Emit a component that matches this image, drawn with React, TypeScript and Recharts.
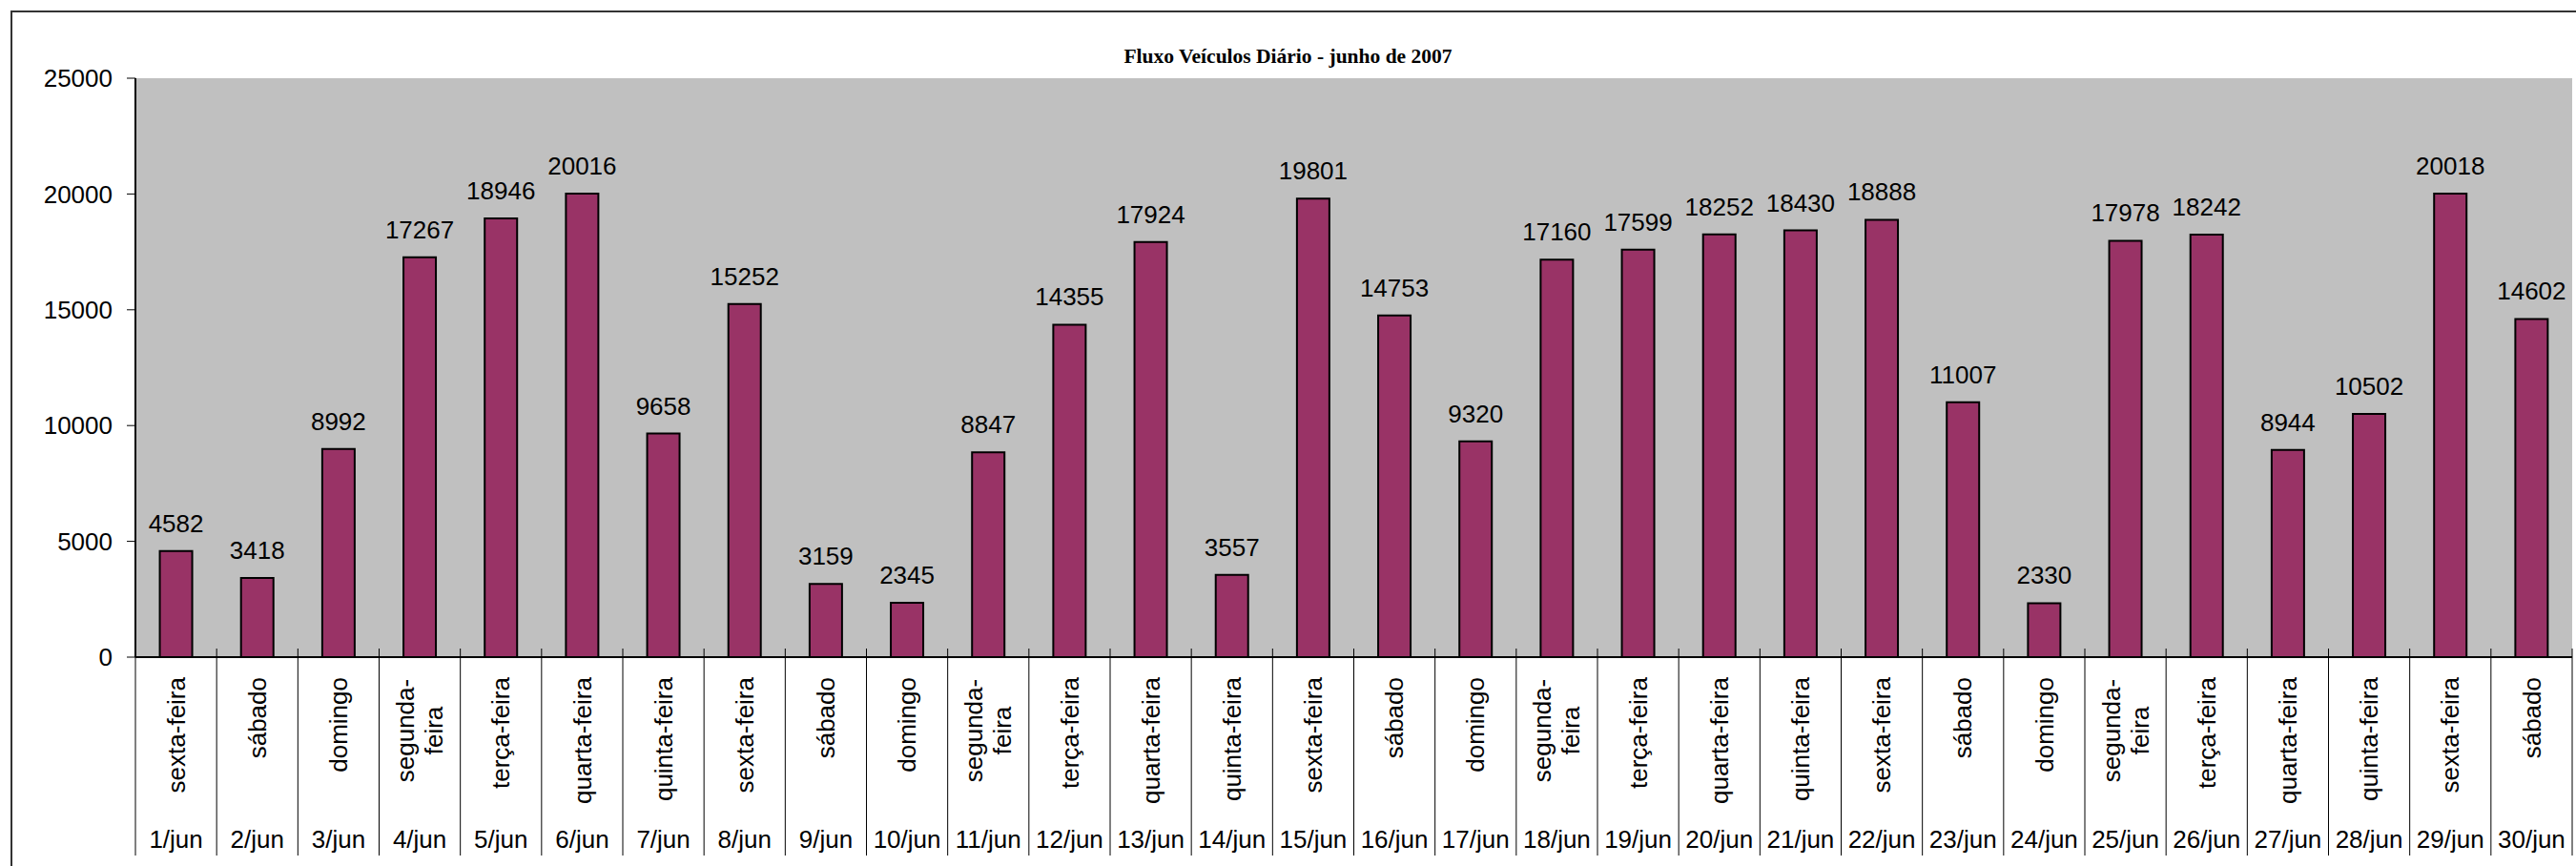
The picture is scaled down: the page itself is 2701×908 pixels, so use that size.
import React from 'react';
import { BarChart, Bar, XAxis, YAxis, CartesianGrid, LabelList } from 'recharts';

const dates = [
  '1/jun', '2/jun', '3/jun', '4/jun', '5/jun', '6/jun', '7/jun', '8/jun', '9/jun', '10/jun',
  '11/jun', '12/jun', '13/jun', '14/jun', '15/jun', '16/jun', '17/jun', '18/jun', '19/jun', '20/jun',
  '21/jun', '22/jun', '23/jun', '24/jun', '25/jun', '26/jun', '27/jun', '28/jun', '29/jun', '30/jun',
];

const weekdays = [
  'sexta-feira', 'sábado', 'domingo', 'segunda-feira', 'terça-feira', 'quarta-feira', 'quinta-feira',
  'sexta-feira', 'sábado', 'domingo', 'segunda-feira', 'terça-feira', 'quarta-feira', 'quinta-feira',
  'sexta-feira', 'sábado', 'domingo', 'segunda-feira', 'terça-feira', 'quarta-feira', 'quinta-feira',
  'sexta-feira', 'sábado', 'domingo', 'segunda-feira', 'terça-feira', 'quarta-feira', 'quinta-feira',
  'sexta-feira', 'sábado',
];

const vehicles = [
  4582, 3418, 8992, 17267, 18946, 20016, 9658, 15252, 3159, 2345,
  8847, 14355, 17924, 3557, 19801, 14753, 9320, 17160, 17599, 18252,
  18430, 18888, 11007, 2330, 17978, 18242, 8944, 10502, 20018, 14602,
];

const yTicks = [0, 5000, 10000, 15000, 20000, 25000];

const data = dates.map((d, i) => ({ date: d, weekday: weekdays[i], value: vehicles[i] }));

const FONT = '"Liberation Sans", Arial, sans-serif';

// two-row category label: rotated weekday + date, with separators between days
const DayTick = (props: any) => {
  const { x, y, index, width, visibleTicksCount } = props;
  const half = width && visibleTicksCount ? width / visibleTicksCount / 2 : 42.6;
  const day = weekdays[index];
  const wrapped = day === 'segunda-feira';
  const dayY = wrapped ? y + 77 : y + 21;
  return (
    <g>
      <line x1={x - half} y1={y - 9} x2={x - half} y2={y + 208} stroke="#000" strokeWidth={1} />
      {index === visibleTicksCount - 1 && (
        <line x1={x + half} y1={y - 9} x2={x + half} y2={y + 208} stroke="#000" strokeWidth={1} />
      )}
      {wrapped ? (
        <text
          x={x}
          y={dayY}
          transform={`rotate(-90, ${x}, ${dayY})`}
          textAnchor="middle"
          fontSize={26}
          fontFamily={FONT}
          fill="#000"
        >
          <tspan x={x} dy={-15 + 9}>segunda-</tspan>
          <tspan x={x} dy={30}>feira</tspan>
        </text>
      ) : (
        <text
          x={x}
          y={dayY}
          dy="0.35em"
          transform={`rotate(-90, ${x}, ${dayY})`}
          textAnchor="end"
          fontSize={26}
          fontFamily={FONT}
          fill="#000"
        >
          {day}
        </text>
      )}
      <text x={x} y={y + 191} dy="0.35em" textAnchor="middle" fontSize={26} fontFamily={FONT} fill="#000">
        {dates[index]}
      </text>
    </g>
  );
};

export default function App() {
  return (
    <div
      style={{
        position: 'absolute',
        left: 0,
        top: 0,
        width: 2701,
        height: 908,
        overflow: 'hidden',
        background: '#fff',
      }}
    >
      <div
        style={{
          position: 'absolute',
          left: 11,
          top: 11,
          width: 2780,
          height: 980,
          border: '2px solid #333',
        }}
      />
      <div
        style={{
          position: 'absolute',
          left: 0,
          top: 46,
          width: 2701,
          textAlign: 'center',
          fontFamily: '"Liberation Serif", "Times New Roman", serif',
          fontWeight: 'bold',
          fontSize: 21.5,
          lineHeight: '26px',
          color: '#000',
        }}
      >
        Fluxo Veículos Diário - junho de 2007
      </div>
      <div style={{ position: 'absolute', left: 0, top: 0 }}>
        <BarChart
          width={2701}
          height={908}
          data={data}
          margin={{ top: 82, right: 4, bottom: 0, left: 0 }}
          barCategoryGap="30%"
        >
          <CartesianGrid fill="#C0C0C0" horizontal={false} vertical={false} stroke="none" />
          <XAxis
            dataKey="date"
            interval={0}
            height={219}
            tickSize={0}
            tickMargin={0}
            tickLine={false}
            axisLine={{ stroke: '#000', strokeWidth: 2 }}
            tick={<DayTick />}
          />
          <XAxis
            xAxisId="top"
            dataKey="date"
            orientation="top"
            height={0}
            tick={false}
            tickLine={false}
            axisLine={{ stroke: '#808080', strokeWidth: 3 }}
          />
          <YAxis
            domain={[0, 25000]}
            ticks={yTicks}
            width={142}
            tickSize={9}
            tickMargin={15}
            interval={0}
            axisLine={{ stroke: '#000', strokeWidth: 2 }}
            tickLine={{ stroke: '#000', strokeWidth: 1 }}
            tick={{ fontSize: 26, fill: '#000', fontFamily: FONT }}
          />
          <YAxis
            yAxisId="right"
            orientation="right"
            width={0}
            domain={[0, 25000]}
            tick={false}
            tickLine={false}
            axisLine={{ stroke: '#808080', strokeWidth: 3 }}
          />
          <Bar dataKey="value" fill="#993366" stroke="#000" strokeWidth={2} isAnimationActive={false}>
            <LabelList
              dataKey="value"
              position="top"
              offset={20}
              fontSize={26}
              fill="#000"
              fontFamily={FONT}
            />
          </Bar>
        </BarChart>
      </div>
    </div>
  );
}
